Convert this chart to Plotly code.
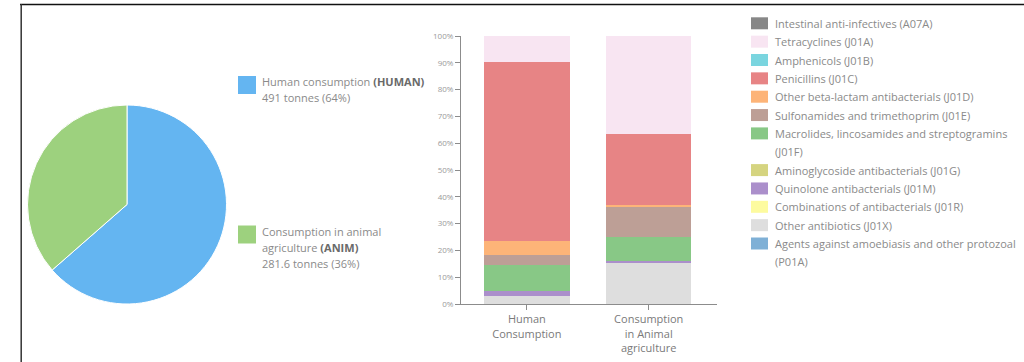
import plotly.graph_objects as go

W, H = 1024, 362

# ---------------- data ----------------
pie_labels = ["Human consumption", "Consumption in animal agriculture"]
pie_codes = ["HUMAN", "ANIM"]
pie_tonnes = [491, 281.6]
pie_colors = ["#64b5f1", "#9dd17e"]

bar_categories = ["Human<br>Consumption", "Consumption<br>in Animal<br>agriculture"]

atc_names = [
    "Intestinal anti-infectives (A07A)",
    "Tetracyclines (J01A)",
    "Amphenicols (J01B)",
    "Penicillins (J01C)",
    "Other beta-lactam antibacterials (J01D)",
    "Sulfonamides and trimethoprim (J01E)",
    "Macrolides, lincosamides and streptogramins<br>(J01F)",
    "Aminoglycoside antibacterials (J01G)",
    "Quinolone antibacterials (J01M)",
    "Combinations of antibacterials (J01R)",
    "Other antibiotics (J01X)",
    "Agents against amoebiasis and other protozoal<br>(P01A)",
]
atc_colors = [
    "#878787", "#f8e5f2", "#7ad5df", "#e78485", "#fdb478", "#bd9f96",
    "#88c886", "#d5d480", "#ab8fcb", "#fdfb9f", "#dedede", "#7fb0d6",
]
human_share = [0, 9.8, 0, 66.8, 5.0, 4.0, 9.4, 0, 2.0, 0, 3.0, 0]
animal_share = [0, 36.7, 0, 26.2, 1.0, 11.1, 8.9, 0, 0.6, 0, 15.5, 0]

y_tickvals = [0, 10, 20, 30, 40, 50, 60, 70, 80, 90, 100]
y_ticktext = [f"{v}%" for v in y_tickvals]

# ---------------- helpers ----------------
def px(x):
    return x / W

def py(y):
    return 1 - y / H

FONT = "Open Sans"
TXT = "#8a8a8a"
BOLD = "#6a6a6a"

fig = go.Figure()

# Pie
cx, cy, r = 127, 204.5, 99.5
fig.add_trace(go.Pie(
    labels=pie_labels, values=pie_tonnes, sort=False, direction="clockwise",
    rotation=0, textinfo="none", hoverinfo="label+value+percent",
    marker=dict(colors=pie_colors, line=dict(color="white", width=1)),
    domain=dict(x=[px(cx - r), px(cx + r)], y=[py(cy + r), py(cy - r)]),
    showlegend=False,
))

# Stacked bars: bottom of stack is last legend entry
for i in reversed(range(len(atc_names))):
    fig.add_trace(go.Bar(
        x=bar_categories, y=[human_share[i], animal_share[i]],
        name=atc_names[i].replace("<br>", " "), width=0.7,
        marker=dict(color=atc_colors[i], line=dict(width=0)),
        showlegend=False, xaxis="x", yaxis="y",
    ))

shapes = []
annotations = []

# Pie legend
total = sum(pie_tonnes)
pie_rows = [76, 225.5]
pie_lines = [
    [f"{pie_labels[0]} <b>({pie_codes[0]})</b>"],
    ["Consumption in animal", f"agriculture <b>({pie_codes[1]})</b>"],
]
for k in range(len(pie_labels)):
    top = pie_rows[k]
    shapes.append(dict(type="rect", xref="paper", yref="paper",
                       x0=px(238), x1=px(256), y0=py(top + 18), y1=py(top),
                       fillcolor=pie_colors[k], line=dict(width=0)))
    lines = list(pie_lines[k])
    pct = round(pie_tonnes[k] / total * 100)
    val = f"{pie_tonnes[k]:g}"
    lines.append(f"{val} tonnes ({pct}%)")
    for j, t in enumerate(lines):
        t = t.replace("<b>", f"<b><span style='color:{BOLD}'>").replace("</b>", "</span></b>")
        annotations.append(dict(xref="paper", yref="paper", x=px(260), y=py(top + 5.5 + j * 16.4),
                                xanchor="left", yanchor="middle", showarrow=False,
                                text=t, font=dict(family=FONT, size=11, color=TXT)))

# Bar legend
line_no = 0
pitch = 18.35
for i, name in enumerate(atc_names):
    yc = 23.3 + line_no * pitch
    shapes.append(dict(type="rect", xref="paper", yref="paper",
                       x0=px(751), x1=px(768), y0=py(yc + 6), y1=py(yc - 6),
                       fillcolor=atc_colors[i], line=dict(width=0)))
    for part in name.split("<br>"):
        annotations.append(dict(xref="paper", yref="paper", x=px(773), y=py(23.3 + line_no * pitch),
                                xanchor="left", yanchor="middle", showarrow=False,
                                text=part, font=dict(family=FONT, size=11, color=TXT)))
        line_no += 1

# Frame lines
shapes.append(dict(type="line", xref="paper", yref="paper", x0=px(20), x1=1, y0=py(4.5), y1=py(4.5),
                   line=dict(color="#111", width=1.5)))
shapes.append(dict(type="line", xref="paper", yref="paper", x0=px(21.2), x1=px(21.2), y0=py(4), y1=0,
                   line=dict(color="#333", width=1.5)))

fig.update_layout(
    width=W, height=H, margin=dict(l=0, r=0, t=0, b=0, autoexpand=False),
    paper_bgcolor="white", plot_bgcolor="white",
    barmode="stack", bargap=0.3,
    font=dict(family=FONT, color=TXT),
    shapes=shapes, annotations=annotations,
    xaxis=dict(domain=[px(461), px(717)], range=[-0.54, 1.56], type="category",
               automargin=False,
               showline=True, linecolor="#8c8c8c", linewidth=1,
               ticks="outside", ticklen=5, tickcolor="#8c8c8c",
               tickfont=dict(family=FONT, size=11, color="#7a7a7a"),
               showgrid=False, zeroline=False, fixedrange=True),
    yaxis=dict(domain=[py(304), py(36)], range=[0, 100], automargin=False,
               tickvals=y_tickvals, ticktext=y_ticktext,
               showline=True, linecolor="#8c8c8c", linewidth=1,
               ticks="outside", ticklen=5, tickcolor="#8c8c8c",
               tickfont=dict(family=FONT, size=8, color="#9a9a9a"),
               showgrid=False, zeroline=False, fixedrange=True),
)

fig.write_html("out.html")
